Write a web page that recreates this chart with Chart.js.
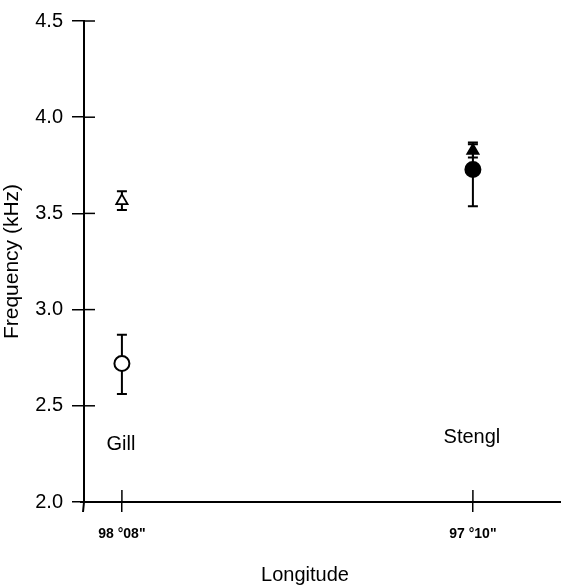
<!DOCTYPE html>
<html>
<head>
<meta charset="utf-8">
<script src="https://cdn.jsdelivr.net/npm/chart.js@4/dist/chart.umd.min.js"></script>
<style>
html,body{margin:0;padding:0;background:#fff;overflow:hidden;}
#wrap{width:561px;height:588px;position:relative;overflow:hidden;}
canvas{display:block;}
</style>
</head>
<body>
<div id="wrap"><canvas id="c" width="561" height="588"></canvas></div>
<script>
// ---- data ----
const sites = ['Gill', 'Stengl'];
const siteX = [0, 1];
const xTickLabels = ['98 °08"', '97 °10"'];
const triangleMean = [3.565, 3.826];
const triangleLow  = [3.518, 3.79];
const triangleHigh = [3.615, 3.868];
const circleMean = [2.72, 3.728];
const circleLow  = [2.561, 3.537];
const circleHigh = [2.869, 3.86];
const siteLabelY = [2.30, 2.335];
const yTicks = [2.0, 2.5, 3.0, 3.5, 4.0, 4.5];

const FONT = '"Liberation Sans", Arial, Helvetica, sans-serif';

const errorBars = {
  id: 'errorBars',
  beforeDatasetsDraw(chart) {
    const ctx = chart.ctx, xs = chart.scales.x, ys = chart.scales.y;
    ctx.save();
    ctx.strokeStyle = '#000';
    ctx.lineWidth = 2;
    const draw = (lo, hi) => {
      siteX.forEach((xv, i) => {
        const px = xs.getPixelForValue(xv);
        const p1 = ys.getPixelForValue(lo[i]);
        const p2 = ys.getPixelForValue(hi[i]);
        ctx.beginPath();
        ctx.moveTo(px, p1); ctx.lineTo(px, p2);
        ctx.moveTo(px - 5, p1); ctx.lineTo(px + 5, p1);
        ctx.moveTo(px - 5, p2); ctx.lineTo(px + 5, p2);
        ctx.stroke();
      });
    };
    draw(circleLow, circleHigh);
    draw(triangleLow, triangleHigh);
    ctx.restore();
  },
  afterDraw(chart) {
    const ctx = chart.ctx, xs = chart.scales.x, ys = chart.scales.y;
    const a = chart.chartArea;
    ctx.save();
    ctx.strokeStyle = '#000';
    ctx.lineWidth = 1.5;
    // inner halves of ticks
    ys.ticks.forEach((t, i) => {
      const py = ys.getPixelForTick(i);
      ctx.beginPath(); ctx.moveTo(a.left, py); ctx.lineTo(a.left + 11, py); ctx.stroke();
    });
    xs.ticks.forEach((t, i) => {
      const px = xs.getPixelForTick(i);
      ctx.beginPath(); ctx.moveTo(px, a.bottom); ctx.lineTo(px, a.bottom - 12); ctx.stroke();
    });
    // axis line extensions
    ctx.lineWidth = 2;
    ctx.beginPath();
    ctx.moveTo(a.left, a.bottom); ctx.lineTo(a.left - 1, a.bottom + 10);
    ctx.moveTo(a.left, a.bottom); ctx.lineTo(a.left - 4, a.bottom);
    ctx.stroke();
    // site labels
    ctx.fillStyle = '#000';
    ctx.font = '20px ' + FONT;
    ctx.textAlign = 'center';
    ctx.textBaseline = 'middle';
    sites.forEach((s, i) => {
      ctx.fillText(s, xs.getPixelForValue(siteX[i]) - 1, ys.getPixelForValue(siteLabelY[i]));
    });
    // x title
    ctx.font = '20px ' + FONT;
    ctx.fillText('Longitude', 305, 575);
    ctx.restore();
  }
};

const xy = (ys) => siteX.map((x, i) => ({x: x, y: ys[i]}));

new Chart(document.getElementById('c'), {
  type: 'scatter',
  data: {
    datasets: [
      { label: 'circle', data: xy(circleMean), pointStyle: 'circle', pointRadius: 7.5,
        pointBackgroundColor: ['#fff', '#000'], pointBorderColor: '#000', pointBorderWidth: 2 },
      { label: 'triangle', data: xy(triangleMean), pointStyle: 'triangle', pointRadius: 6.5,
        pointBackgroundColor: ['#fff', '#000'], pointBorderColor: '#000', pointBorderWidth: 1.8 }
    ]
  },
  options: {
    responsive: false,
    animation: false,
    events: [],
    layout: { autoPadding: false, padding: { top: 17, left: 0, right: 0, bottom: 0 } },
    plugins: { legend: { display: false }, tooltip: { enabled: false } },
    scales: {
      x: {
        type: 'linear', min: -0.108, max: 1.251,
        afterBuildTicks: (s) => { s.ticks = siteX.map(v => ({ value: v })); },
        afterFit: (s) => { s.height = 86; s.paddingRight = 0; s.paddingLeft = 0; },
        ticks: {
          color: '#000', padding: 14, autoSkip: false, maxRotation: 0,
          font: { family: FONT, size: 14, weight: 'bold' },
          callback: (v) => { const i = siteX.indexOf(v); return i >= 0 ? xTickLabels[i] : ''; }
        },
        grid: { drawOnChartArea: false, drawTicks: true, tickLength: 10, color: '#000', lineWidth: 1.5 },
        border: { display: true, color: '#000', width: 2 }
      },
      y: {
        type: 'linear', min: 2.0, max: 4.5,
        afterBuildTicks: (s) => { s.ticks = yTicks.map(v => ({ value: v })); },
        afterFit: (s) => { s.width = 84; },
        ticks: {
          color: '#000', padding: 9,
          font: { family: FONT, size: 20 },
          callback: (v) => v.toFixed(1)
        },
        title: { display: true, text: 'Frequency (kHz)', color: '#000', padding: { top: 0, bottom: 0 },
                 font: { family: FONT, size: 21 } },
        grid: { drawOnChartArea: false, drawTicks: true, tickLength: 12, color: '#000', lineWidth: 1.5 },
        border: { display: true, color: '#000', width: 2 }
      }
    }
  },
  plugins: [errorBars]
});
</script>
</body>
</html>
